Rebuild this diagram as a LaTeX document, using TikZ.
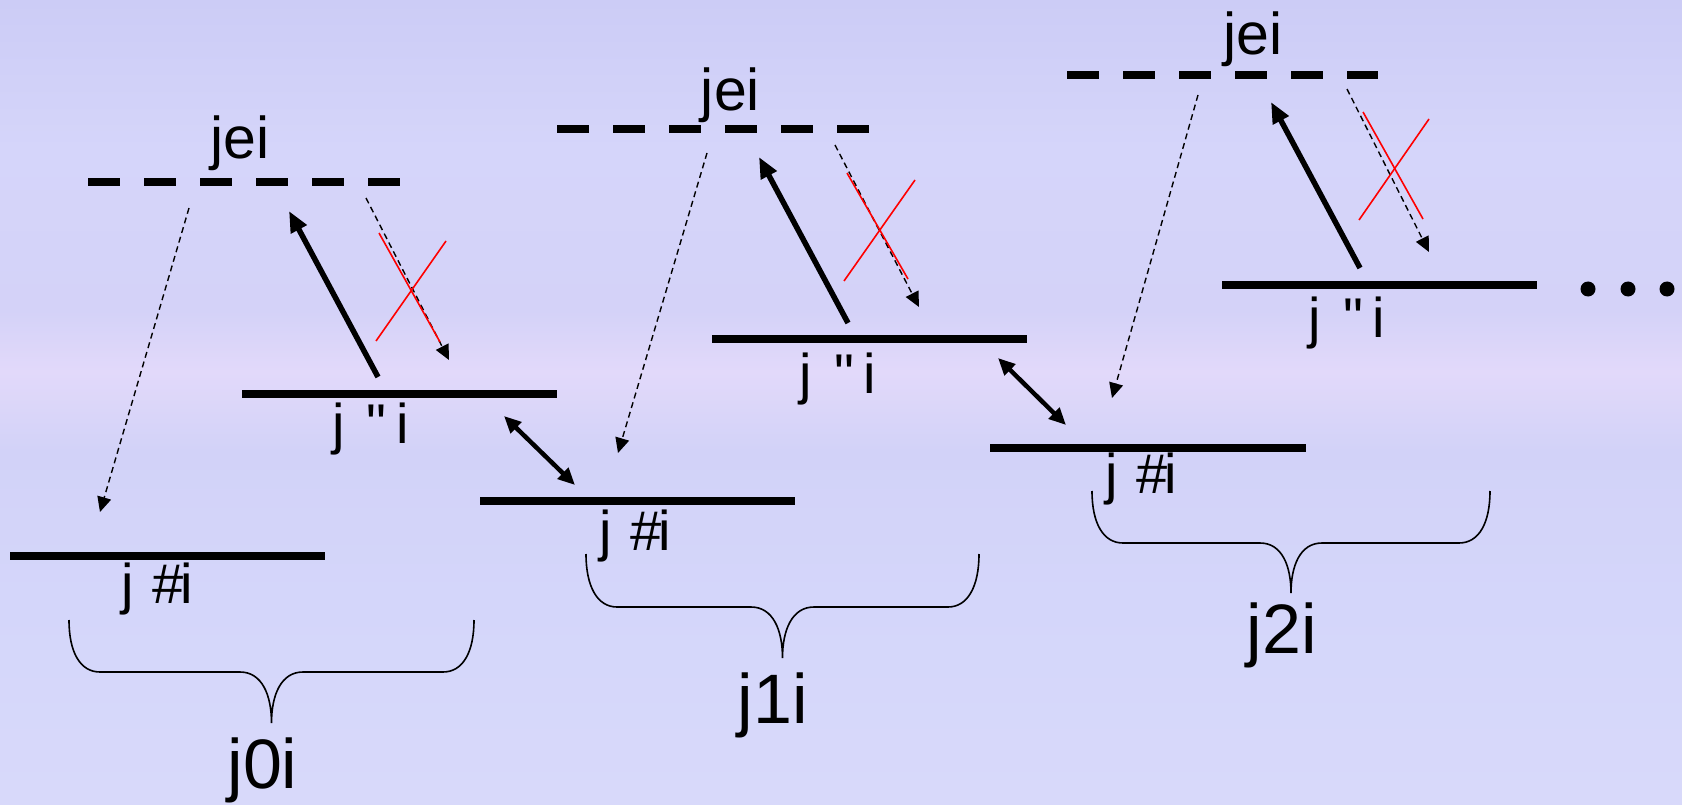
\documentclass[tikz,border=0pt]{standalone}
\usepackage{fontspec}
\setmainfont[Ligatures=TeXOff]{Liberation Sans}
\usetikzlibrary{arrows.meta}
\definecolor{bgA}{RGB}{216,217,250}
\definecolor{bgB}{RGB}{212,214,250}
\definecolor{bgC}{RGB}{210,210,248}
\definecolor{bgD}{RGB}{226,217,250}
\definecolor{bgE}{RGB}{212,210,248}
\definecolor{bgF}{RGB}{213,213,250}
\definecolor{bgG}{RGB}{204,204,246}
\definecolor{xred}{RGB}{255,0,0}
\pgfdeclareverticalshading{bgshade}{100bp}{color(0bp)=(bgA); color(25bp)=(bgA); color(37.7bp)=(bgB); color(47bp)=(bgC); color(51.9bp)=(bgD); color(55.7bp)=(bgE); color(65.7bp)=(bgF); color(75bp)=(bgG); color(100bp)=(bgG)}
\begin{document}
\begin{tikzpicture}[x=1pt,y=-1pt,
  level/.style={line width=8pt},
  virt/.style={line width=8pt, dash pattern=on 32pt off 24pt},
  pump/.style={line width=5.5pt, -{Triangle[length=21pt,width=17pt]}},
  decay/.style={line width=1.4pt, dash pattern=on 6pt off 4pt, -{Triangle[length=15pt,width=14pt]}},
  swap/.style={line width=4.5pt, {Triangle[length=17pt,width=15pt]}-{Triangle[length=17pt,width=15pt]}},
  cross/.style={xred, line width=1.6pt},
  brc/.style={line width=1.6pt},
  lbl/.style={inner sep=0pt, anchor=base, font=\fontsize{56}{60}\selectfont},
  vlbl/.style={inner sep=0pt, anchor=base, font=\fontsize{59}{62}\selectfont},
  blbl/.style={inner sep=0pt, anchor=base, font=\fontsize{70}{74}\selectfont},
  dot/.style={circle, fill=black, inner sep=0pt, minimum size=15pt}]
\useasboundingbox (0,0) rectangle (1682,805);
\shade[shading=bgshade] (0,0) rectangle (1682,805);

% ---- levels ----
\coordinate (v0L) at (88,182);   \coordinate (v0R) at (400,182);
\coordinate (v1L) at (557,129);  \coordinate (v1R) at (869,129);
\coordinate (v2L) at (1067,75);  \coordinate (v2R) at (1378,75);
\coordinate (u0L) at (242,394);  \coordinate (u0R) at (557,394);
\coordinate (u1L) at (712,339);  \coordinate (u1R) at (1027,339);
\coordinate (u2L) at (1222,285); \coordinate (u2R) at (1537,285);
\coordinate (d0L) at (10,556);   \coordinate (d0R) at (325,556);
\coordinate (d1L) at (480,501);  \coordinate (d1R) at (795,501);
\coordinate (d2L) at (990,448);  \coordinate (d2R) at (1306,448);
\draw[virt] (v0L) -- (v0R);
\draw[virt] (v1L) -- (v1R);
\draw[virt] (v2L) -- (v2R);
\draw[level] (u0L) -- (u0R);
\draw[level] (u1L) -- (u1R);
\draw[level] (u2L) -- (u2R);
\draw[level] (d0L) -- (d0R);
\draw[level] (d1L) -- (d1R);
\draw[level] (d2L) -- (d2R);

% ---- labels ----
\node[vlbl] (e0) at (240,159) {jei};
\node[vlbl] (e1) at (730.5,111) {jei};
\node[vlbl] (e2) at (1253,55) {jei};
\node[lbl] (lu0) at (370.5,443) {j\hspace{0.4em}\symbol{34}\hspace{0.17em}i};
\node[lbl] (lu1) at (838,393) {j\hspace{0.4em}\symbol{34}\hspace{0.17em}i};
\node[lbl] (lu2) at (1347,337) {j\hspace{0.4em}\symbol{34}\hspace{0.17em}i};
\node[lbl] (ld0) at (157,603) {j\hspace{0.33em}\#\hspace{-0.06em}i};
\node[lbl] (ld1) at (635,550) {j\hspace{0.33em}\#\hspace{-0.06em}i};
\node[lbl] (ld2) at (1141,493) {j\hspace{0.33em}\#\hspace{-0.06em}i};
\node[blbl] (n0) at (262.5,788) {j0i};
\node[blbl] (n1) at (773,723) {j1i};
\node[blbl] (n2) at (1282,653) {j2i};

% ---- column 0 arrows ----
\coordinate (a0s) at (189,208);  \coordinate (a0e) at (100,512);
\coordinate (p0s) at (378,377);  \coordinate (p0e) at (289,211);
\coordinate (s0s) at (366,198);  \coordinate (s0e) at (449,360);
\coordinate (x0a) at (379,233);  \coordinate (x0b) at (440,342);
\coordinate (x0c) at (446,241);  \coordinate (x0d) at (376,341);
\draw[decay] (a0s) -- (a0e);
\draw[pump] (p0s) -- (p0e);
\draw[decay] (s0s) -- (s0e);
\draw[cross] (x0a) -- (x0b);
\draw[cross] (x0c) -- (x0d);

% ---- column 1 arrows ----
\coordinate (a1s) at (707,153);  \coordinate (a1e) at (618,453);
\coordinate (p1s) at (848,323);  \coordinate (p1e) at (759,157);
\coordinate (s1s) at (835,145);  \coordinate (s1e) at (919,307);
\coordinate (x1a) at (847,173);  \coordinate (x1b) at (908,279);
\coordinate (x1c) at (915,180);  \coordinate (x1d) at (844,281);
\draw[decay] (a1s) -- (a1e);
\draw[pump] (p1s) -- (p1e);
\draw[decay] (s1s) -- (s1e);
\draw[cross] (x1a) -- (x1b);
\draw[cross] (x1c) -- (x1d);

% ---- column 2 arrows ----
\coordinate (a2s) at (1198,95);  \coordinate (a2e) at (1112,398);
\coordinate (p2s) at (1360,268); \coordinate (p2e) at (1271,102);
\coordinate (s2s) at (1347,89);  \coordinate (s2e) at (1429,252);
\coordinate (x2a) at (1363,112); \coordinate (x2b) at (1423,219);
\coordinate (x2c) at (1429,119); \coordinate (x2d) at (1359,220);
\draw[decay] (a2s) -- (a2e);
\draw[pump] (p2s) -- (p2e);
\draw[decay] (s2s) -- (s2e);
\draw[cross] (x2a) -- (x2b);
\draw[cross] (x2c) -- (x2d);

% ---- couplings between wells ----
\coordinate (c0s) at (504,416);  \coordinate (c0e) at (575,485);
\coordinate (c1s) at (998,358);  \coordinate (c1e) at (1066,425);
\draw[swap] (c0s) -- (c0e);
\draw[swap] (c1s) -- (c1e);

% ---- braces ----
\draw[brc] (69,620) .. controls (69,652) and (80,672) .. (100,672) -- (240,672)
  .. controls (262,672) and (271.5,695) .. (271.5,723)
  .. controls (271.5,695) and (281,672) .. (303,672) -- (443,672)
  .. controls (463,672) and (474,652) .. (474,620);
\draw[brc] (586,554) .. controls (586,586) and (597,607) .. (617,607) -- (751,607)
  .. controls (773,607) and (782.5,630) .. (782.5,658)
  .. controls (782.5,630) and (792,607) .. (814,607) -- (948,607)
  .. controls (968,607) and (979,586) .. (979,554);
\draw[brc] (1092,491) .. controls (1092,523) and (1103,543) .. (1123,543) -- (1260,543)
  .. controls (1282,543) and (1291,566) .. (1291,593)
  .. controls (1291,566) and (1300,543) .. (1322,543) -- (1459,543)
  .. controls (1479,543) and (1490,523) .. (1490,491);

% ---- continuation dots ----
\node[dot] (dt1) at (1588,289) {};
\node[dot] (dt2) at (1628,289) {};
\node[dot] (dt3) at (1667,289) {};
\end{tikzpicture}
\end{document}
